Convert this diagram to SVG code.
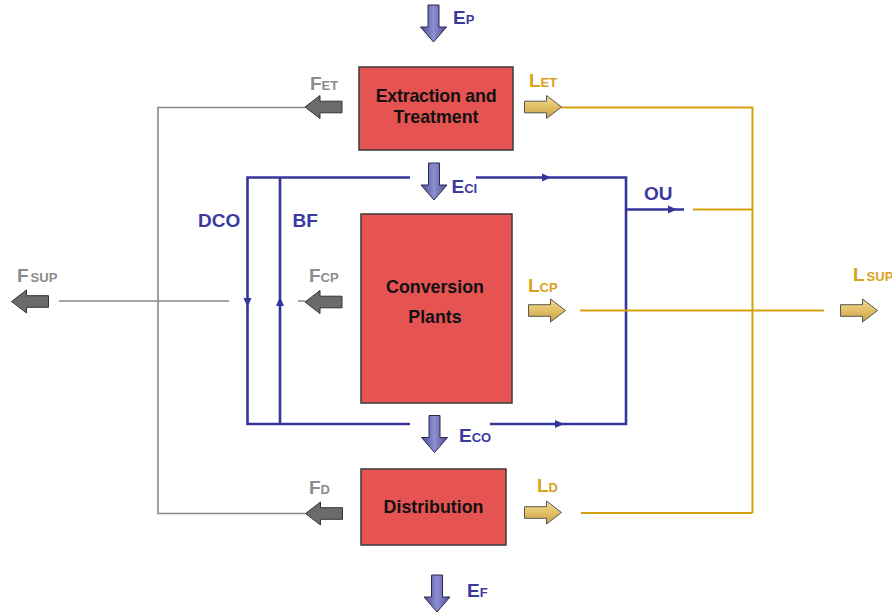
<svg xmlns="http://www.w3.org/2000/svg" xmlns:xlink="http://www.w3.org/1999/xlink" width="892" height="614" viewBox="0 0 892 614">
<style>
.box{fill:#e65353;stroke:#3a3a3a;stroke-width:1.5}
.nt{font-family:"Liberation Sans",Arial,sans-serif;font-weight:bold;font-size:17.8px;fill:#111;text-anchor:middle}
.lb{font-family:"Liberation Sans",Arial,sans-serif;font-weight:bold;font-size:19px}
.sb{font-size:13px}
.blue{fill:#3a3a9e}
.gray{fill:#8c8c8c}
.gold{fill:#d9a21b}
.bl{fill:none;stroke:#35359c;stroke-width:2.6}
.gl{fill:none;stroke:#888;stroke-width:1.6}
.yl{fill:none;stroke:#d4a20c;stroke-width:2}
.ah{fill:#35359c}
</style>
<defs>
<linearGradient id="gb" x1="0" y1="0" x2="1" y2="0">
<stop offset="0" stop-color="#4a4a98"/><stop offset="0.5" stop-color="#8e8ed0"/><stop offset="1" stop-color="#4a4a98"/>
</linearGradient>
<linearGradient id="gy" x1="0" y1="0" x2="0" y2="1">
<stop offset="0" stop-color="#f2dc8a"/><stop offset="0.5" stop-color="#e2c068"/><stop offset="1" stop-color="#c9a040"/>
</linearGradient>
<path id="dn" d="M-5.5,0 h11 v22 h7.5 l-13,15 l-13,-15 h7.5 z" fill="url(#gb)" stroke="#2a2a50" stroke-width="1"/>
<path id="lf" d="M0,0 l15,-11.5 v5.7 h22 v11.6 h-22 v5.7 z" fill="#6b6b6b" stroke="#333" stroke-width="1"/>
<path id="rt" d="M0,0 l-15,-11.5 v5.7 h-22 v11.6 h22 v5.7 z" fill="url(#gy)" stroke="#555" stroke-width="1"/>
<path id="tri" d="M0,0 l-9,-4 v8 z" class="ah"/>
</defs>

<g id="connectors">
<path class="gl" d="M305,107.5 H158 V513.5 H305"/>
<path class="gl" d="M59,301 H229 M298,301 H305"/>
<path class="bl" d="M410,177.5 H247.5 V424 H410"/>
<path class="bl" d="M280,424 V177.5"/>
<path class="bl" d="M476,177.5 H626 V424 H490"/>
<path class="bl" d="M626,209.5 H684"/>
<use xlink:href="#tri" x="551" y="177.5"/>
<use xlink:href="#tri" x="564" y="424"/>
<use xlink:href="#tri" x="677" y="209.5"/>
<use xlink:href="#tri" transform="translate(247.5,307) rotate(90)"/>
<use xlink:href="#tri" transform="translate(280,297) rotate(-90)"/>
<path class="yl" d="M561,107.5 H752.5 V513"/>
<path class="yl" d="M693,209.5 H752.5"/>
<path class="yl" d="M580,310.5 H824"/>
<path class="yl" d="M581,513 H752.5"/>
</g>

<g id="flow-arrows">
<use xlink:href="#dn" x="433.5" y="5"/>
<use xlink:href="#dn" x="434" y="163"/>
<use xlink:href="#dn" x="434.5" y="415.5"/>
<use xlink:href="#dn" x="437" y="575"/>
<use xlink:href="#lf" x="305" y="107"/>
<use xlink:href="#lf" x="305" y="302"/>
<use xlink:href="#lf" x="305.5" y="513.5"/>
<use xlink:href="#lf" x="11.5" y="301.5"/>
<use xlink:href="#rt" x="561.5" y="107"/>
<use xlink:href="#rt" x="565.5" y="310.5"/>
<use xlink:href="#rt" x="561.5" y="512.5"/>
<use xlink:href="#rt" x="877.5" y="310.5"/>
</g>

<g id="node-extraction">
<rect class="box" x="359" y="67" width="154" height="83"/>
<text class="nt" x="436" y="102" letter-spacing="-0.2">Extraction and</text>
<text class="nt" x="436" y="123">Treatment</text>
</g>
<g id="node-conversion">
<rect class="box" x="361" y="214" width="151" height="189"/>
<text class="nt" x="435" y="293">Conversion</text>
<text class="nt" x="435" y="323">Plants</text>
</g>
<g id="node-distribution">
<rect class="box" x="361" y="469" width="145" height="76"/>
<text class="nt" x="433.5" y="513">Distribution</text>
</g>

<g id="labels">
<text class="lb blue" x="453" y="24">E<tspan class="sb">P</tspan></text>
<text class="lb blue" x="451.5" y="192.5">E<tspan class="sb">CI</tspan></text>
<text class="lb blue" x="459" y="442">E<tspan class="sb">CO</tspan></text>
<text class="lb blue" x="467" y="597">E<tspan class="sb">F</tspan></text>
<text class="lb gray" x="310" y="90">F<tspan class="sb">ET</tspan></text>
<text class="lb gray" x="309" y="282">F<tspan class="sb">CP</tspan></text>
<text class="lb gray" x="309" y="494">F<tspan class="sb">D</tspan></text>
<text class="lb gray" x="17" y="282">F<tspan class="sb" dx="2">SUP</tspan></text>
<text class="lb gold" x="529" y="86.5">L<tspan class="sb">ET</tspan></text>
<text class="lb gold" x="528" y="292">L<tspan class="sb">CP</tspan></text>
<text class="lb gold" x="537" y="492">L<tspan class="sb">D</tspan></text>
<text class="lb gold" x="853" y="281">L<tspan class="sb" dx="2">SUP</tspan></text>
<text class="lb blue" x="198" y="227">DCO</text>
<text class="lb blue" x="292.5" y="227">BF</text>
<text class="lb blue" x="644" y="200">OU</text>
</g>
</svg>
